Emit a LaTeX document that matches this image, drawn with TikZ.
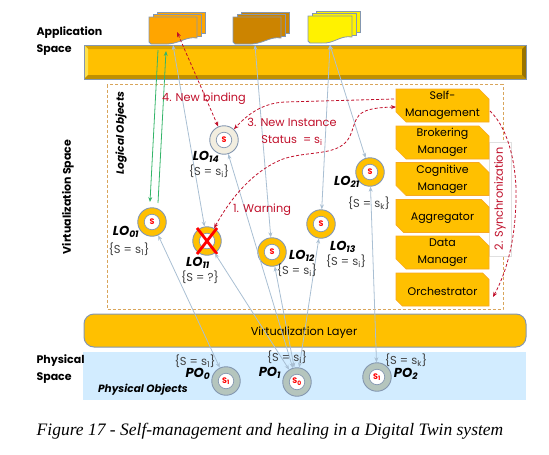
\documentclass[tikz,border=0pt]{standalone}
\usepackage{fontspec}
\setmainfont{Poppins}
\newfontfamily\captionfont{Liberation Serif}
\usetikzlibrary{shapes.misc,arrows.meta}

\definecolor{gold}{HTML}{FFC000}
\definecolor{edgegray}{HTML}{8497B0}
\definecolor{linkblue}{HTML}{A9BFD3}
\definecolor{warnred}{HTML}{C00F2A}
\definecolor{boxtan}{HTML}{D9A55B}
\definecolor{physblue}{HTML}{D2ECFF}
\definecolor{mgrline}{HTML}{F7A823}
\definecolor{newcream}{HTML}{F2EEE0}
\definecolor{pogray}{HTML}{B5C5BD}
\definecolor{linkgreen}{HTML}{35B56A}
\definecolor{docorange}{HTML}{FFA500}
\definecolor{docbrown}{HTML}{CC8400}

\newcommand{\docstack}[4]{
  \begin{scope}[shift={(#1,#2)}]
    \draw[edgegray,fill=#4,line width=0.8pt] (8,-5) rectangle (#3+8,16);
    \draw[edgegray,fill=#4,line width=0.8pt] (4,-2.5) rectangle (#3+4,19);
    \draw[edgegray,fill=#4,line width=0.8pt]
      (0,0) -- (#3,0) -- (#3,21)
      .. controls (#3-12,19) and (#3-18,28) .. (14,27) -- (2,27) -- (0,25) -- cycle;
  \end{scope}
}

\begin{document}
\begin{tikzpicture}[x=1pt,y=-1pt,
  every node/.style={font=\fontsize{11.3}{13.5}\selectfont},
  head text/.style={font=\fontsize{11}{17}\selectfont\bfseries,align=left,anchor=west},
  obj text/.style={font=\fontsize{10.5}{13}\selectfont\bfseries\itshape},
  lo name/.style={font=\fontsize{13}{15}\selectfont\bfseries\itshape},
  state text/.style={font=\fontsize{11.5}{13}\selectfont,text=black!75},
  red text/.style={font=\fontsize{11.3}{17}\selectfont,text=warnred,align=center},
  lo node/.style={circle,draw=edgegray,fill=gold,line width=0.9pt,minimum size=28.5pt,inner sep=0pt},
  lo new/.style={lo node,fill=newcream},
  po node/.style={lo node,fill=pogray},
  s node/.style={circle,draw=edgegray,fill=white,line width=0.7pt,minimum size=15.5pt,inner sep=0pt,
    text=red,font=\fontsize{8}{9}\selectfont\bfseries},
  mgr node/.style={chamfered rectangle,chamfered rectangle corners={north east,south west},
    chamfered rectangle xsep=5pt,chamfered rectangle ysep=5pt,draw=mgrline,fill=gold,line width=0.7pt,
    minimum width=93pt,minimum height=33pt,inner sep=0pt,inner ysep=-5pt,align=center,
    font=\fontsize{11}{17}\selectfont,execute at begin node=\rule{0pt}{12.5pt}},
  link/.style={{Stealth[length=5pt,width=4pt]}-{Stealth[length=5pt,width=4pt]},linkblue,line width=0.8pt},
  green link/.style={-{Stealth[length=5pt,width=4pt]},linkgreen,line width=0.8pt},
  red link/.style={warnred,densely dashed,line width=0.8pt},
  red one/.style={red link,-{Stealth[length=5pt,width=4pt,sep=0pt]}},
  red both/.style={red link,{Stealth[length=5pt,width=4pt]}-{Stealth[length=5pt,width=4pt]}}]

  \useasboundingbox (0,0) rectangle (549,455);

  % physical band and layers
  \fill[physblue] (83,352) rectangle (526,400);
  \draw[edgegray,fill=gold,line width=1pt,rounded corners=10pt] (84,314) rectangle (526,347);
  \node (virtlayer) at (304,332.5) {Virtualization Layer};

  % application bar
  \fill[gold] (84,45) rectangle (526,79);
  \fill[gold!85!black] (84,45) -- (526,45) -- (522,49) -- (88,49) -- cycle;
  \fill[yellow!45!gold!70!white] (84,45) -- (88,49) -- (88,75) -- (84,79) -- cycle;
  \fill[gold!75!black] (84,79) -- (88,75) -- (522,75) -- (526,79) -- cycle;
  \fill[gold!60!black] (526,45) -- (522,49) -- (522,75) -- (526,79) -- cycle;
  \draw[edgegray,line width=0.9pt] (84,45) rectangle (526,79);

  \docstack{149}{17}{48}{docorange}
  \docstack{233}{17}{48}{docbrown}
  \docstack{308}{16}{44}{yellow}
  \coordinate (stacka) at (173,45);
  \coordinate (stackb) at (255,45);
  \coordinate (stackc) at (330,45);

  % logical objects box
  \draw[boxtan,densely dashed,line width=1pt] (107,84.5) rectangle (503,309);
  \draw[black!12,fill=white,line width=0.4pt] (489,142) rectangle (511,256);

  \node[mgr node] (selfmgr) at (442.5,105.5) {Self-\\Management};
  \node[mgr node] (brokermgr) at (442.5,142.5) {Brokering\\Manager};
  \node[mgr node] (cogmgr) at (442.5,179) {Cognitive\\Manager};
  \node[mgr node] (aggr) at (442.5,216) {Aggregator};
  \node[mgr node] (datamgr) at (442.5,252.5) {Data\\Manager};
  \node[mgr node] (orch) at (442.5,289.5) {Orchestrator};

  % objects
  \node[lo new] (lo14) at (224,140) {};
  \node[lo node] (lo21) at (370,172) {};
  \node[lo node] (lo13) at (321,224) {};
  \node[lo node] (lo12) at (272,252) {};
  \node[lo node] (lo11) at (207,241) {};
  \node[lo node] (lo01) at (152,222) {};
  \node[po node] (po0) at (226,381) {};
  \node[po node] (po1) at (297,382) {};
  \node[po node] (po2) at (377,377) {};

  \node[s node] (s14) at (lo14) {S};
  \node[s node] (s21) at (lo21) {S};
  \node[s node] (s13) at (lo13) {S};
  \node[s node] (s12) at (lo12) {S};
  \node[s node] (s11) at (lo11) {};
  \node[s node] (s01) at (lo01) {S};
  \node[s node] (sp0) at (po0) {S\textsubscript{1}};
  \node[s node] (sp1) at (po1) {S\textsubscript{0}};
  \node[s node] (sp2) at (po2) {S\textsubscript{1}};

  \draw[red,line width=2.8pt] (lo11) ++(-10,-13) -- ++(20,26);
  \draw[red,line width=2.8pt] (lo11) ++(10,-13) -- ++(-20,26);

  % blue links
  \path[link]
   (stacka) edge (lo11)
   (stackb) edge (lo12)
   (stackc) edge (lo13)
   (stackc) edge (lo21)
   (lo01) edge (po0)
   (lo11) edge (po1)
   (lo14) edge (po1)
   (lo12) edge (po1)
   (lo13) edge (po1)
   (lo21) edge (po2);

  % green links
  \coordinate (gra) at (158,50);
  \coordinate (grb) at (150,202);
  \coordinate (grc) at (158,203);
  \coordinate (grd) at (166,51);
  \draw[green link] (gra) -- (grb);
  \draw[green link] (grc) -- (grd);

  % red links
  \coordinate (binda) at (177,32);
  \coordinate (selfa) at (394,99);
  \coordinate (selfb) at (396,107);
  \coordinate (synca) at (490,111);
  \coordinate (syncb) at (493,297);
  \draw[red both] (binda) -- (lo14);
  \draw[red one] (selfa) -- (285,102) .. controls (262,103) and (247,115) .. (lo14);
  \draw[red both] (lo11) .. controls (228,203) and (250,172) .. (283,159)
    .. controls (310,150) and (340,157) .. (350,136)
    .. controls (358,118) and (352,108) .. (selfb);
  \draw[red one] (synca) .. controls (510,130) and (517,170) .. (516,200)
    .. controls (515,245) and (505,275) .. (syncb);

  % labels
  \node[head text] (appspace) at (33,41) {Application\\Space};
  \node[head text] (physspace) at (33,369) {Physical\\Space};
  \node[rotate=90,font=\fontsize{11}{13}\selectfont\bfseries] (virtspace) at (68,197) {Virtualization Space};
  \node[rotate=90,obj text] (logobj) at (121,133) {Logical Objects};
  \node[obj text] (physobj) at (143,390) {Physical Objects};

  \node[red text] (bindlabel) at (204,99) {4. New binding};
  \node[red text] (statuslabel) at (292,132) {3. New Instance\\Status ~= s\textsubscript{i}};
  \node[red text] (warnlabel) at (262,210) {1. Warning};
  \node[red text,rotate=90] (synclabel) at (500,199) {2. Synchronization};

  \node[lo name] (name14) at (206,157) {LO\textsubscript{14}};
  \node[lo name] (name21) at (347,182) {LO\textsubscript{21}};
  \node[lo name] (name13) at (343,247) {LO\textsubscript{13}};
  \node[lo name] (name12) at (302,256) {LO\textsubscript{12}};
  \node[lo name] (name11) at (198,263) {LO\textsubscript{11}};
  \node[lo name] (name01) at (126,232) {LO\textsubscript{01}};
  \node[lo name] (namep0) at (198,374) {PO\textsubscript{0}};
  \node[lo name] (namep1) at (270,373) {PO\textsubscript{1}};
  \node[lo name] (namep2) at (406,374) {PO\textsubscript{2}};

  \node[state text] (state14) at (209,171) {\{S = s\textsubscript{i}\}};
  \node[state text] (state21) at (369,203) {\{S = s\textsubscript{k}\}};
  \node[state text] (state13) at (346,261) {\{S = s\textsubscript{i}\}};
  \node[state text] (state12) at (297,270) {\{S = s\textsubscript{i}\}};
  \node[state text] (state11) at (200,277) {\{S = ?\}};
  \node[state text] (state01) at (129,249) {\{S = s\textsubscript{1}\}};
  \node[state text] (statep0) at (195,361) {\{S = s\textsubscript{1}\}};
  \node[state text] (statep1) at (287,357) {\{S = s\textsubscript{i}\}};
  \node[state text] (statep2) at (406,360) {\{S = s\textsubscript{k}\}};

  \node[font=\captionfont\itshape\fontsize{17.5}{19}\selectfont] (figcaption) at (270,431)
    {Figure 17 - Self-management and healing in a Digital Twin system};
\end{tikzpicture}
\end{document}
